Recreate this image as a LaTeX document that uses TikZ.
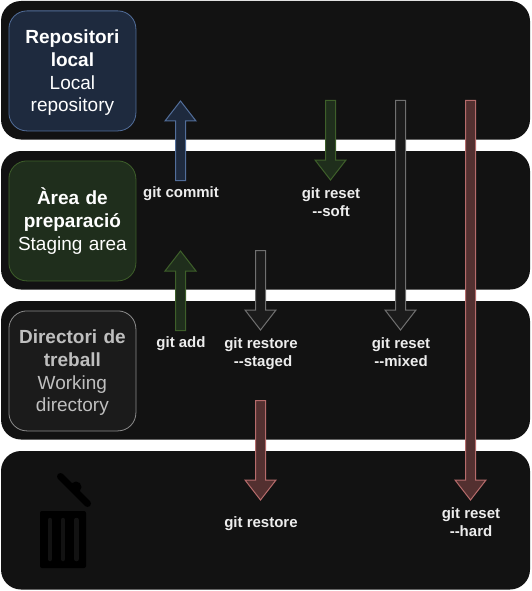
\documentclass[tikz,border=0pt]{standalone}
\usepackage{fontspec}
\setmainfont{Liberation Sans}
\usetikzlibrary{calc}
\usepackage{xcolor}

\definecolor{bandcol}{HTML}{121212}
\definecolor{bluefill}{HTML}{1E2A3E}
\definecolor{blueline}{HTML}{526E9A}
\definecolor{greenfill}{HTML}{1F2E1C}
\definecolor{greenline}{HTML}{3E5F2A}
\definecolor{greyfill}{HTML}{1B1B1B}
\definecolor{greyline}{HTML}{707070}
\definecolor{greybox}{HTML}{8C8C8C}
\definecolor{redfill}{HTML}{533030}
\definecolor{redline}{HTML}{B56B6B}

\tikzset{
  band/.style={fill=bandcol, rounded corners=20pt},
  area/.style={rounded corners=18pt, line width=0.8pt, inner sep=0pt, minimum width=127pt, minimum height=120pt,
    text width=127pt, align=center, font=\fontsize{19}{22.7}\selectfont, anchor=north west},
  gitlabel/.style={text=white!93!black, align=center, font=\fontsize{15}{18.5}\selectfont\bfseries},
  bluearrow/.style={fill=bluefill, draw=blueline, line width=1pt},
  greenarrow/.style={fill=greenfill, draw=greenline, line width=1pt},
  greyarrow/.style={fill=greyfill, draw=greyline, line width=1pt},
  redarrow/.style={fill=redfill, draw=redline, line width=1pt},
}

\newcommand{\gitarrow}[3]{
  \coordinate (neck) at ($(#3)!20pt!(#2)$);
  \draw[#1] ($(#2)!5pt!90:(#3)$) -- ($(neck)!5pt!-90:(#2)$) -- ($(neck)!15.5pt!-90:(#2)$) -- (#3)
    -- ($(neck)!15.5pt!90:(#2)$) -- ($(neck)!5pt!90:(#2)$) -- ($(#2)!5pt!-90:(#3)$) -- cycle;
}

\begin{document}
\begin{tikzpicture}[x=1pt, y=-1pt]

\useasboundingbox[fill=white] (0, 0) rectangle (531, 591);

\fill[band] (1, 1) rectangle (530, 139.5);
\fill[band] (1, 151) rectangle (530, 289.5);
\fill[band] (1, 301) rectangle (530, 439.5);
\fill[band] (1, 451) rectangle (530, 589.5);

\node[area, fill=bluefill, draw=blueline, text=white] (repo) at (8.5, 10.5)
  {\rule{0pt}{18pt}\textbf{Repositori}\\\textbf{local}\\Local\\repository};
\node[area, fill=greenfill, draw=greenline, text=white] (staging) at (8.5, 160.5)
  {\textbf{Àrea de}\\\textbf{preparació}\\Staging area};
\node[area, fill=greyfill, draw=greybox, text=white!75!black] (workdir) at (8.5, 310.5)
  {\rule{0pt}{18pt}\textbf{Directori de}\\\textbf{treball}\\Working\\directory};

\coordinate (c_1) at (180.5, 180.5);
\coordinate (c_2) at (180.5, 101);
\coordinate (a_1) at (180.5, 330.5);
\coordinate (a_2) at (180.5, 251);
\coordinate (s_1) at (330.5, 100.5);
\coordinate (s_2) at (330.5, 180);
\coordinate (g_1) at (260.5, 250.5);
\coordinate (g_2) at (260.5, 330);
\coordinate (m_1) at (400.5, 100.5);
\coordinate (m_2) at (400.5, 330);
\coordinate (h_1) at (470.5, 100.5);
\coordinate (h_2) at (470.5, 500);
\coordinate (r_1) at (260.5, 400.5);
\coordinate (r_2) at (260.5, 500);

\gitarrow{bluearrow}{c_1}{c_2}
\gitarrow{greenarrow}{a_1}{a_2}
\gitarrow{greenarrow}{s_1}{s_2}
\gitarrow{greyarrow}{g_1}{g_2}
\gitarrow{greyarrow}{m_1}{m_2}
\gitarrow{redarrow}{h_1}{h_2}
\gitarrow{redarrow}{r_1}{r_2}

\node[gitlabel] (commit) at (181, 194) {git commit};
\node[gitlabel] (add) at (181, 344) {git add};
\node[gitlabel] (soft) at (331, 202) {git reset\\-{}-soft};
\node[gitlabel] (staged) at (261, 353.5) {git restore\\\hspace{4pt}-{}-staged};
\node[gitlabel] (mixed) at (401, 352) {git reset\\-{}-mixed};
\node[gitlabel] (restore) at (261, 523.5) {git restore};
\node[gitlabel] (hard) at (471, 522) {git reset\\-{}-hard};

% trash can
\fill[black, rounded corners=2pt] (40, 511) -- (86, 511) -- (86, 568) -- (40, 568) -- cycle;
\foreach \x in {50, 63, 76.5}
  \draw[bandcol, line width=4.5pt, line cap=round] (\x, 520) -- (\x, 559);
\draw[black, line width=7pt, line cap=round] (60.5, 476.5) -- (87.5, 503.5);
\fill[black] (76, 487) circle [radius=5.5];

\end{tikzpicture}
\end{document}
